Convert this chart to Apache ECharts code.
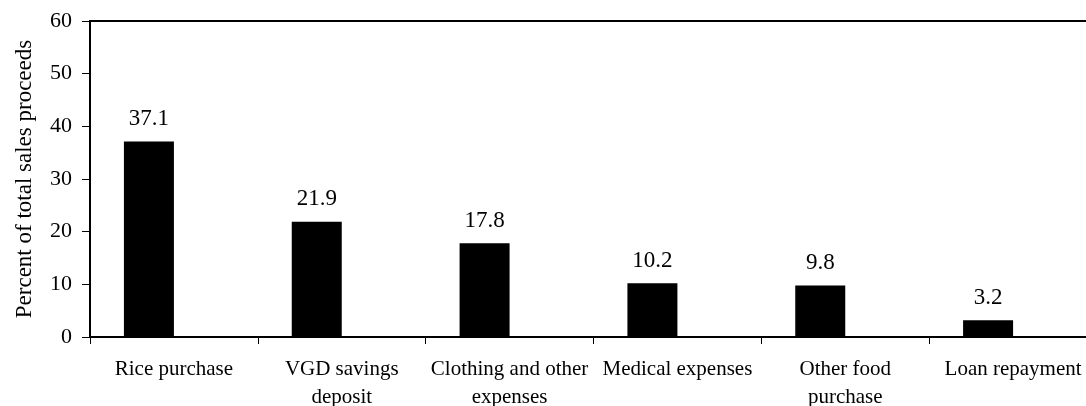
<!DOCTYPE html>
<html>
<head>
<meta charset="utf-8">
<script src="https://cdn.jsdelivr.net/npm/echarts@6/dist/echarts.min.js"></script>
<style>
  html, body { margin: 0; padding: 0; background: #fff; }
  #chart { width: 1086px; height: 406px; }
</style>
</head>
<body>
<div id="chart"></div>
<script>
// categories (two-line labels as in the original)
const categories = [
  'Rice purchase',
  'VGD savings\ndeposit',
  'Clothing and other\nexpenses',
  'Medical expenses',
  'Other food\npurchase',
  'Loan repayment'
];
const shares = [37.1, 21.9, 17.8, 10.2, 9.8, 3.2];
// empty second slot, the bars sit left of each category centre
const emptySlot = categories.map(() => '-');
const yTicks = { min: 0, max: 60, interval: 10 };

const font = 'Liberation Serif, Times New Roman, serif';

const myChart = echarts.init(document.getElementById('chart'));

const option = {
  animation: false,
  grid: {
    left: 90,
    top: 21,
    right: -11, // plot runs past the right edge of the picture
    bottom: 69,
    outerBoundsMode: 'none',
    show: true,
    borderColor: '#000',
    borderWidth: 2
  },
  xAxis: {
    type: 'category',
    data: categories,
    axisLine: { lineStyle: { color: '#000', width: 2 } },
    axisTick: { show: true, length: 7, lineStyle: { color: '#000', width: 1 } },
    axisLabel: {
      color: '#000',
      fontFamily: font,
      fontSize: 21,
      lineHeight: 28,
      margin: 18,
      interval: 0
    },
    splitLine: { show: false }
  },
  yAxis: {
    type: 'value',
    min: yTicks.min,
    max: yTicks.max,
    interval: yTicks.interval,
    name: 'Percent of total sales proceeds',
    nameLocation: 'middle',
    nameGap: 54,
    nameTextStyle: { color: '#000', fontFamily: font, fontSize: 23 },
    axisLine: { show: true, lineStyle: { color: '#000', width: 2 } },
    axisTick: { show: true, length: 8, lineStyle: { color: '#000', width: 1 } },
    axisLabel: { color: '#000', fontFamily: font, fontSize: 22, margin: 18 },
    splitLine: { show: false }
  },
  series: [
    {
      name: 'share',
      type: 'bar',
      data: shares,
      barWidth: 50,
      barGap: '0%',
      itemStyle: { color: '#000' },
      label: {
        show: true,
        position: 'top',
        distance: 11,
        color: '#000',
        fontFamily: font,
        fontSize: 23,
        formatter: (p) => p.value.toFixed(1)
      }
    },
    {
      name: 'empty',
      type: 'bar',
      data: emptySlot,
      barWidth: 50,
      barGap: '0%'
    }
  ]
};

myChart.setOption(option);
</script>
</body>
</html>
